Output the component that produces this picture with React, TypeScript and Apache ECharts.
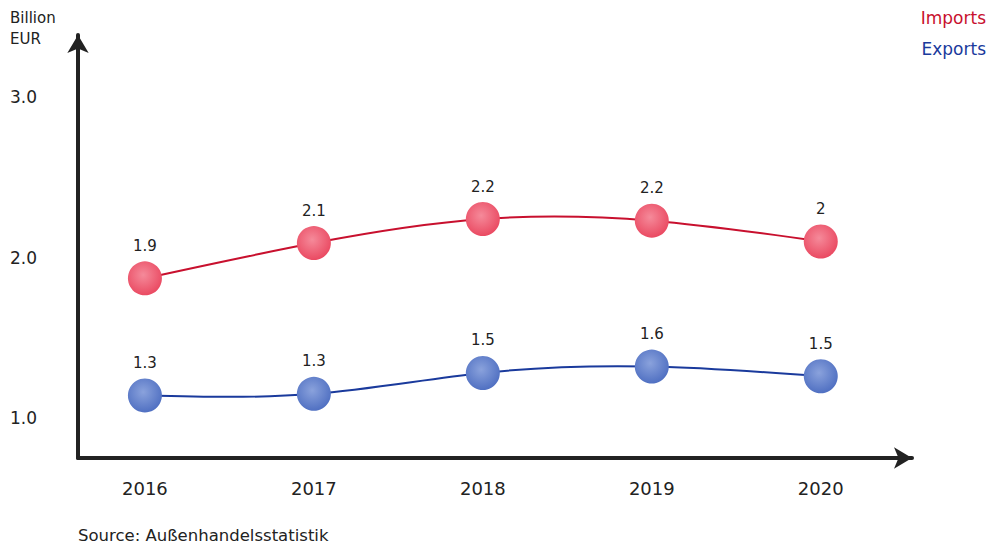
import React, { useEffect, useRef } from "react";
import * as echarts from "echarts";

const years = [2016, 2017, 2018, 2019, 2020];
const importsValues = [1.87, 2.09, 2.24, 2.23, 2.1];
const exportsValues = [1.14, 1.15, 1.28, 1.32, 1.26];
const importsLabels = ["1.9", "2.1", "2.2", "2.2", "2"];
const exportsLabels = ["1.3", "1.3", "1.5", "1.6", "1.5"];
const yTicks = [1, 2, 3];

const FONT = "'DejaVu Sans', sans-serif";

function controlPoints(x: number[]) {
  const n = x.length - 1;
  const a = new Array(n);
  const b = new Array(n);
  const r = new Array(n);
  let m: number;
  a[0] = 0; b[0] = 2; r[0] = x[0] + 2 * x[1];
  for (let i = 1; i < n - 1; ++i) { a[i] = 1; b[i] = 4; r[i] = 4 * x[i] + 2 * x[i + 1]; }
  a[n - 1] = 2; b[n - 1] = 7; r[n - 1] = 8 * x[n - 1] + x[n];
  for (let i = 1; i < n; ++i) { m = a[i] / b[i - 1]; b[i] -= m; r[i] -= m * r[i - 1]; }
  a[n - 1] = r[n - 1] / b[n - 1];
  for (let i = n - 2; i >= 0; --i) a[i] = (r[i] - a[i + 1]) / b[i];
  b[n - 1] = (x[n] + a[n - 1]) / 2;
  for (let i = 0; i < n - 1; ++i) b[i] = 2 * x[i + 1] - a[i + 1];
  return [a, b];
}

function naturalPath(pts: number[][]) {
  const xs = pts.map((p) => p[0]);
  const ys = pts.map((p) => p[1]);
  const [ax, bx] = controlPoints(xs);
  const [ay, by] = controlPoints(ys);
  let d = `M${xs[0]},${ys[0]}`;
  for (let i = 0; i < xs.length - 1; i++) {
    d += `C${ax[i]},${ay[i]},${bx[i]},${by[i]},${xs[i + 1]},${ys[i + 1]}`;
  }
  return d;
}

export default function App() {
  const ref = useRef<HTMLDivElement>(null);
  useEffect(() => {
    if (!ref.current) return;
    const chart = echarts.init(ref.current, null, { renderer: "svg" });

    const curveSeries = (values: number[], color: string) => ({
      type: "custom",
      silent: true,
      z: 1,
      data: [0],
      renderItem: (params: any, api: any) => {
        const pts = values.map((v, i) => api.coord([years[i], v]));
        return {
          type: "path",
          shape: { pathData: naturalPath(pts) },
          style: { fill: "none", stroke: color, lineWidth: 2 },
        };
      },
    });

    const mkSeries = (
      name: string,
      values: number[],
      labels: string[],
      dotColor: string,
      dotLight: string
    ) => ({
      name,
      type: "line",
      data: values.map((v, i) => [years[i], v]),
      symbol: "circle",
      symbolSize: 34,
      lineStyle: { width: 0, opacity: 0 },
      itemStyle: {
        color: {
          type: "radial",
          x: 0.45,
          y: 0.4,
          r: 0.6,
          colorStops: [
            { offset: 0, color: dotLight },
            { offset: 1, color: dotColor },
          ],
        },
        borderWidth: 0,
      },
      label: {
        show: true,
        position: "top",
        distance: 8,
        color: "#222",
        fontFamily: FONT,
        fontSize: 15,
        formatter: (p: any) => labels[p.dataIndex],
      },
      z: 3,
    });

    chart.setOption({
      animation: false,
      backgroundColor: "#fff",
      grid: { left: 78, right: 76, top: 35, bottom: 90 },
      xAxis: {
        type: "value",
        min: 2015.604,
        max: 2020.54,
        splitLine: { show: false },
        axisTick: { show: false },
        axisLine: {
          show: true,
          onZero: false,
          symbol: ["none", "arrow"],
          symbolSize: [16, 18],
          lineStyle: { color: "#222", width: 4 },
        },
        axisLabel: {
          customValues: years,
          formatter: (v: number) => String(Math.round(v)),
          color: "#222",
          fontFamily: FONT,
          fontSize: 18,
          margin: 21,
        },
      },
      yAxis: {
        type: "value",
        min: 0.75,
        max: 3.3875,
        splitLine: { show: false },
        axisTick: { show: false },
        axisLine: {
          show: true,
          onZero: false,
          symbol: ["none", "arrow"],
          symbolSize: [16, 18],
          lineStyle: { color: "#222", width: 4 },
        },
        axisLabel: {
          customValues: yTicks,
          formatter: (v: number) => v.toFixed(1),
          color: "#222",
          fontFamily: FONT,
          fontSize: 17,
          margin: 68,
          align: "left",
        },
      },
      graphic: [
        {
          type: "text",
          left: 10,
          top: 7,
          style: {
            text: "Billion\nEUR",
            fill: "#222",
            font: `15px ${FONT}`,
            lineHeight: 21,
          },
        },
        {
          type: "text",
          right: 2,
          top: 9,
          style: { text: "Imports", fill: "#c8102e", font: `17px ${FONT}` },
        },
        {
          type: "text",
          right: 2,
          top: 40,
          style: { text: "Exports", fill: "#1a3a9c", font: `17px ${FONT}` },
        },
        {
          type: "text",
          left: 78,
          top: 527,
          style: {
            text: "Source: Außenhandelsstatistik",
            fill: "#222",
            font: `16.5px ${FONT}`,
          },
        },
      ],
      series: [
        curveSeries(importsValues, "#c8102e"),
        curveSeries(exportsValues, "#1a3a9c"),
        mkSeries("Imports", importsValues, importsLabels, "#ea4a62", "#f58a9a"),
        mkSeries("Exports", exportsValues, exportsLabels, "#5070c2", "#8aa2dc"),
      ],
    });
    return () => chart.dispose();
  }, []);
  return <div ref={ref} style={{ width: 988, height: 548, position: "absolute", left: 0, top: 0 }} />;
}
